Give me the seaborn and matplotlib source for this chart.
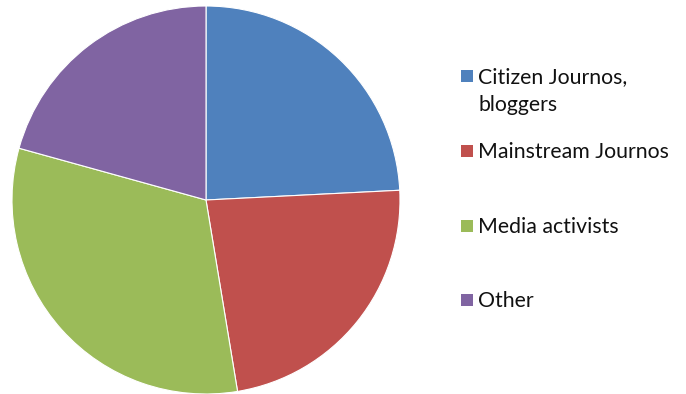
import matplotlib
matplotlib.use("Agg")
import matplotlib.pyplot as plt
import seaborn as sns
from matplotlib.patches import Rectangle

categories = ["Citizen Journos,\nbloggers", "Mainstream Journos", "Media activists", "Other"]
shares = [24.2, 23.2, 31.9, 20.7]
colors = ["#4F81BD", "#C0504D", "#9BBB59", "#8064A2"]

sns.set_theme(style="white")
plt.rcParams["font.family"] = ["Lato", "DejaVu Sans"]

W, H = 686, 394
fig = plt.figure(figsize=(W / 100, H / 100), dpi=100)
fig.patch.set_facecolor("white")

# pie centred at (206, 200) px with radius ~194 px
cx, cy, r = 206, 200, 194
ax = fig.add_axes([(cx - r) / W, (H - cy - r) / H, 2 * r / W, 2 * r / H])
ax.pie(shares, colors=colors, startangle=90, counterclock=False, radius=1.0,
       wedgeprops=dict(edgecolor="white", linewidth=0.8))
ax.set_xlim(-1, 1)
ax.set_ylim(-1, 1)
ax.set_aspect("equal")
ax.axis("off")

# legend entries on the right
marker_y = [76, 151, 226, 300]
for label, color, y in zip(categories, colors, marker_y):
    fig.add_artist(Rectangle((461 / W, (H - y - 6) / H), 12 / W, 12 / H,
                             transform=fig.transFigure, facecolor=color,
                             edgecolor="none"))
    for i, line in enumerate(label.split("\n")):
        fig.text(478 / W, (H - y - 1 - i * 28) / H, line, fontsize=15.3,
                 color="#111111", va="center", ha="left")

fig.savefig("out.png", dpi=100, facecolor="white")
